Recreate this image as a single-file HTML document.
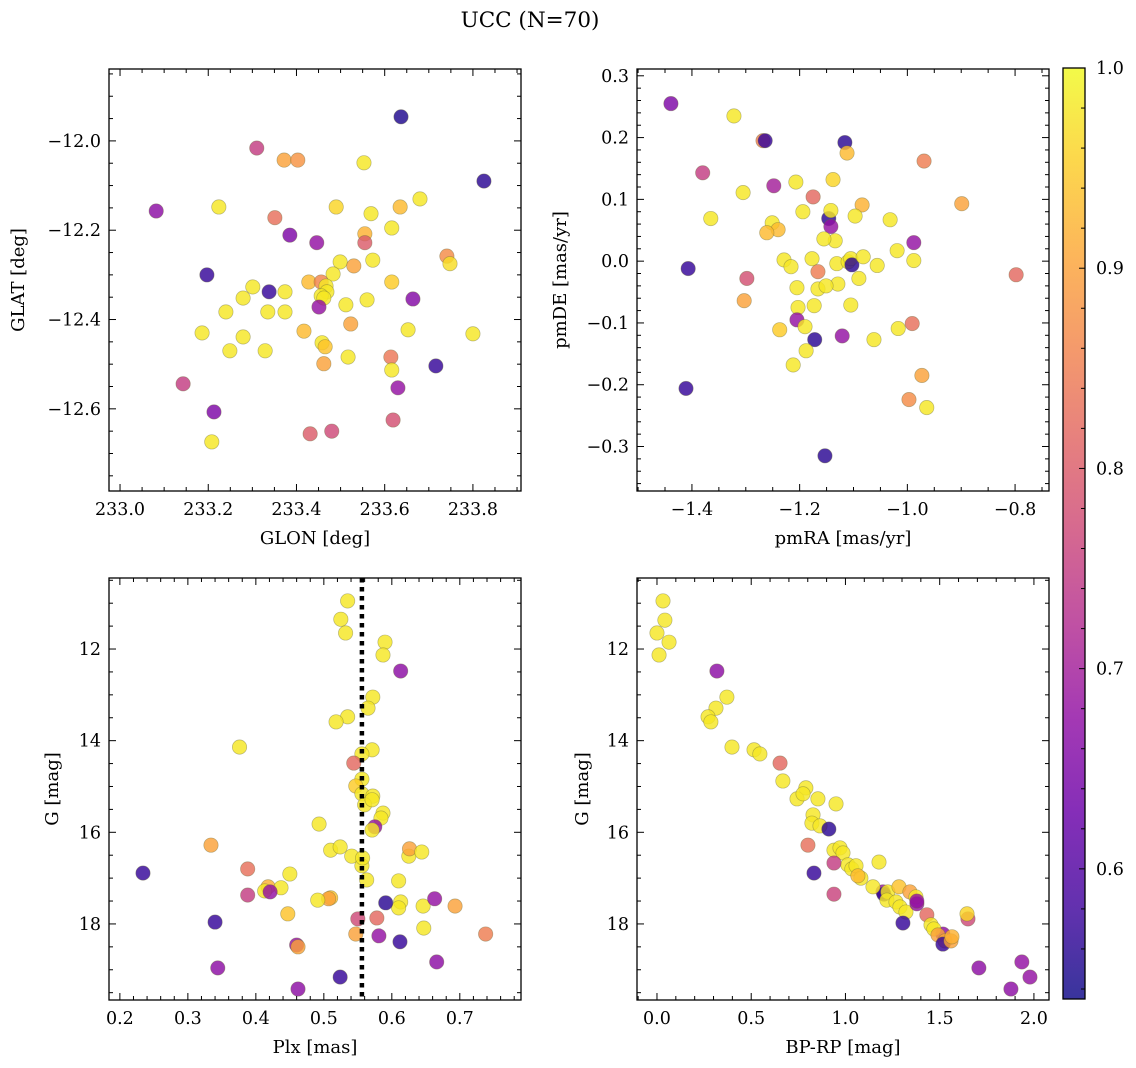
<!DOCTYPE html>
<html><head><meta charset="utf-8"><style>
html,body{margin:0;padding:0;background:#fff;}
svg{display:block;font-family:"DejaVu Serif","Liberation Serif",serif;}
</style></head><body>
<svg id="fig" width="1136" height="1068" viewBox="0 0 1136 1068">
<defs>
<linearGradient id="plasma" x1="0" y1="1" x2="0" y2="0">
<stop offset="0" stop-color="#0d0887"/><stop offset="0.1" stop-color="#41049d"/><stop offset="0.2" stop-color="#6a00a8"/><stop offset="0.3" stop-color="#8f0da4"/><stop offset="0.4" stop-color="#b12a90"/><stop offset="0.5" stop-color="#cc4778"/><stop offset="0.6" stop-color="#e16462"/><stop offset="0.7" stop-color="#f2844b"/><stop offset="0.8" stop-color="#fca636"/><stop offset="0.9" stop-color="#fcce25"/><stop offset="1" stop-color="#f0f921"/>
</linearGradient>
</defs>
<text x="530" y="27" font-size="21.5" text-anchor="middle">UCC (N=70)</text>
</svg>
<script>
// Panel 1: GLON / GLAT
const p1_glon=[233.637,233.310,233.372,233.403,233.553,233.082,233.224,233.490,233.635,233.680,233.825,233.351,233.569,233.385,233.446,233.555,233.555,233.616,233.741,233.748,233.197,233.499,233.573,233.530,233.483,233.428,233.456,233.616,233.467,233.469,233.456,233.301,233.279,233.338,233.374,233.462,233.560,233.451,233.512,233.664,233.186,233.240,233.335,233.374,233.523,233.653,233.800,233.417,233.279,233.249,233.329,233.458,233.465,233.517,233.614,233.462,233.616,233.716,233.630,233.143,233.213,233.208,233.619,233.480,233.431];
const p1_glat=[-11.946,-12.016,-12.043,-12.043,-12.049,-12.157,-12.148,-12.148,-12.148,-12.130,-12.090,-12.172,-12.163,-12.211,-12.228,-12.208,-12.228,-12.195,-12.258,-12.275,-12.300,-12.271,-12.267,-12.280,-12.298,-12.316,-12.316,-12.316,-12.325,-12.338,-12.347,-12.327,-12.352,-12.338,-12.338,-12.352,-12.356,-12.372,-12.367,-12.354,-12.430,-12.383,-12.383,-12.383,-12.410,-12.423,-12.432,-12.426,-12.439,-12.470,-12.470,-12.452,-12.461,-12.484,-12.484,-12.499,-12.513,-12.504,-12.553,-12.544,-12.607,-12.674,-12.625,-12.650,-12.656];
const p1_prob=[0.55,0.75,0.90,0.88,0.98,0.67,0.98,0.96,0.93,0.98,0.56,0.83,0.98,0.65,0.68,0.92,0.80,0.98,0.87,0.97,0.57,0.98,0.98,0.90,0.98,0.93,0.86,0.95,0.98,0.98,0.98,0.98,0.98,0.57,0.98,0.98,0.98,0.68,0.98,0.66,0.98,0.98,0.98,0.98,0.90,0.98,0.98,0.93,0.98,0.98,0.98,0.98,0.94,0.98,0.84,0.90,0.98,0.57,0.68,0.75,0.65,0.98,0.78,0.77,0.80];
// Panel 2: pmRA / pmDE
const p2_pmra=[-1.439,-1.322,-1.268,-1.264,-1.116,-1.112,-0.969,-1.380,-1.248,-1.207,-1.305,-1.175,-1.138,-1.084,-0.899,-1.365,-1.251,-1.194,-1.146,-1.142,-1.097,-1.032,-1.142,-1.134,-1.155,-1.240,-1.261,-1.177,-1.229,-1.216,-1.131,-1.110,-1.105,-1.103,-1.056,-1.082,-1.019,-0.988,-0.988,-1.407,-1.298,-1.166,-1.090,-1.205,-1.129,-1.166,-1.151,-1.303,-1.203,-1.105,-0.991,-1.173,-1.205,-1.190,-1.121,-1.237,-1.172,-1.062,-1.017,-1.188,-1.212,-1.411,-0.798,-0.973,-0.997,-0.964,-1.153];
const p2_pmde=[0.255,0.235,0.195,0.195,0.192,0.175,0.162,0.143,0.122,0.128,0.111,0.104,0.132,0.091,0.093,0.069,0.062,0.080,0.069,0.082,0.073,0.067,0.056,0.033,0.036,0.051,0.046,0.004,0.002,-0.009,-0.004,-0.001,0.004,-0.006,-0.007,0.007,0.017,0.001,0.030,-0.012,-0.028,-0.017,-0.028,-0.043,-0.037,-0.045,-0.040,-0.064,-0.075,-0.071,-0.101,-0.072,-0.095,-0.106,-0.121,-0.111,-0.127,-0.127,-0.109,-0.145,-0.168,-0.206,-0.022,-0.185,-0.224,-0.237,-0.315];
const p2_prob=[0.65,0.98,0.85,0.57,0.56,0.93,0.85,0.75,0.70,0.98,0.98,0.82,0.96,0.92,0.90,0.98,0.98,0.98,0.56,0.98,0.98,0.98,0.68,0.98,0.98,0.93,0.93,0.98,0.98,0.98,0.98,0.98,0.98,0.56,0.98,0.98,0.98,0.98,0.68,0.57,0.78,0.85,0.98,0.98,0.98,0.98,0.98,0.90,0.98,0.98,0.83,0.98,0.68,0.98,0.68,0.95,0.56,0.98,0.98,0.98,0.98,0.57,0.82,0.90,0.87,0.98,0.56];
// Panel 3: Plx / G
const p3_plx=[0.535,0.525,0.532,0.590,0.587,0.613,0.572,0.565,0.535,0.518,0.376,0.571,0.556,0.544,0.556,0.547,0.556,0.572,0.560,0.571,0.587,0.584,0.575,0.571,0.493,0.510,0.524,0.541,0.556,0.557,0.625,0.626,0.234,0.388,0.334,0.610,0.563,0.450,0.418,0.437,0.644,0.413,0.421,0.388,0.510,0.507,0.491,0.613,0.610,0.646,0.663,0.693,0.591,0.447,0.647,0.340,0.550,0.578,0.547,0.581,0.612,0.460,0.462,0.738,0.666,0.344,0.524,0.462];
const p3_g=[10.95,11.35,11.65,11.85,12.13,12.48,13.05,13.29,13.48,13.59,14.14,14.20,14.29,14.49,14.84,14.99,15.16,15.21,15.40,15.29,15.58,15.69,15.88,15.95,15.82,16.39,16.32,16.52,16.73,16.56,16.52,16.36,16.89,16.80,16.28,17.06,17.04,16.91,17.19,17.21,16.43,17.28,17.30,17.37,17.43,17.45,17.48,17.52,17.65,17.61,17.45,17.61,17.54,17.78,18.09,17.96,17.89,17.87,18.22,18.26,18.39,18.46,18.50,18.22,18.83,18.96,19.16,19.42];
const p3_prob=[0.98,0.98,0.98,0.98,0.98,0.67,0.98,0.98,0.98,0.98,0.98,0.98,0.98,0.82,0.98,0.95,0.98,0.98,0.98,0.98,0.98,0.98,0.68,0.98,0.98,0.98,0.98,0.98,0.98,0.98,0.98,0.90,0.57,0.83,0.90,0.98,0.98,0.98,0.92,0.98,0.98,0.98,0.68,0.75,0.94,0.90,0.98,0.98,0.98,0.98,0.68,0.90,0.56,0.94,0.98,0.57,0.77,0.82,0.90,0.68,0.57,0.68,0.90,0.85,0.67,0.67,0.57,0.67];
const p3_vline=[0.556];
// Panel 4: BP-RP / G
const p4_bprp=[0.032,0.042,0.000,0.064,0.011,0.318,0.371,0.313,0.271,0.286,0.515,0.546,0.398,0.653,0.668,0.790,0.743,0.775,0.854,0.950,0.828,0.822,0.865,0.912,0.801,0.939,0.971,0.987,1.013,1.034,1.056,1.178,0.939,0.833,0.939,1.082,1.066,1.199,1.204,1.146,1.225,1.284,1.342,1.220,1.268,1.289,1.321,1.374,1.305,1.379,1.432,1.517,1.454,1.469,1.491,1.528,1.517,1.560,1.565,1.650,1.708,1.645,1.936,1.979,1.878,1.379];
const p4_g=[10.95,11.37,11.65,11.85,12.13,12.48,13.05,13.29,13.48,13.59,14.20,14.29,14.14,14.49,14.88,15.03,15.27,15.16,15.27,15.38,15.62,15.80,15.86,15.93,16.28,16.39,16.34,16.45,16.71,16.80,16.73,16.65,16.67,16.89,17.35,17.00,16.95,17.30,17.35,17.19,17.30,17.19,17.30,17.48,17.52,17.63,17.74,17.41,17.98,17.56,17.80,18.22,18.02,18.11,18.24,18.37,18.44,18.37,18.28,17.89,18.96,17.78,18.83,19.16,19.42,17.50];
const p4_prob=[0.98,0.98,0.98,0.98,0.98,0.67,0.98,0.98,0.98,0.98,0.98,0.98,0.98,0.82,0.98,0.98,0.98,0.98,0.98,0.98,0.98,0.98,0.98,0.56,0.83,0.98,0.98,0.98,0.98,0.98,0.98,0.98,0.75,0.57,0.76,0.98,0.93,0.68,0.56,0.98,0.98,0.94,0.90,0.98,0.98,0.98,0.98,0.98,0.57,0.68,0.82,0.67,0.98,0.98,0.90,0.90,0.57,0.90,0.92,0.77,0.67,0.96,0.68,0.68,0.67,0.68];

const CMIN=0.535, CMAX=1.0;
const TICKFS=17.5, LABFS=18;
const stops=["#0d0887","#41049d","#6a00a8","#8f0da4","#b12a90","#cc4778","#e16462","#f2844b","#fca636","#fcce25","#f0f921"];
function hex(h){return [1,3,5].map(i=>parseInt(h.substr(i,2),16));}
function cmap(v){let t=(v-CMIN)/(CMAX-CMIN);t=Math.max(0,Math.min(1,t));const f=t*10;const i=Math.min(9,Math.floor(f));const r=f-i;const a=hex(stops[i]),b=hex(stops[i+1]);return 'rgb('+a.map((c,k)=>Math.round(c+(b[k]-c)*r)).join(',')+')';}
const NS="http://www.w3.org/2000/svg";
const svg=document.getElementById('fig');
function el(tag,attrs,parent){const e=document.createElementNS(NS,tag);for(const k in attrs)e.setAttribute(k,attrs[k]);(parent||svg).appendChild(e);return e;}
function fmt(v,d){const s=Math.abs(v).toFixed(d);return (v<-1e-9?'\u2212':'')+s;}

function panel(o){
  const g=el('g',{});
  
  
  const X=v=>o.x0+(v-o.xmin)/(o.xmax-o.xmin)*o.w;
  const Y=v=>o.y0+(o.ytop-v)/(o.ytop-o.ybot)*o.h;
  const lo=Math.min(o.ybot,o.ytop), hi=Math.max(o.ybot,o.ytop);
  const pg=el('g',{},g);
  
  
  for(let i=0;i<o.xs.length;i++){
    const c=el('circle',{cx:X(o.xs[i]),cy:Y(o.ys[i]),r:7.2,fill:cmap(o.cs[i]),'fill-opacity':0.82,stroke:'#6b6b3a','stroke-opacity':0.45,'stroke-width':0.7},pg);
    
    
  }
  if(o.vline){for(const v of o.vline){const l=el('line',{x1:X(v),x2:X(v),y1:o.y0,y2:o.y0+o.h,stroke:'#000','stroke-width':4.5,'stroke-dasharray':'4.5 4.5'},g);
    
    }}
  const fr=el('rect',{x:o.x0,y:o.y0,width:o.w,height:o.h,fill:'none',stroke:'#000','stroke-width':1.3},g);
  
  
  const xmn=Math.ceil(Math.min(o.xmin,o.xmax)/o.xminor-1e-6)*o.xminor;
  for(let v=xmn;v<=o.xmax+1e-9;v+=o.xminor){const x=X(v);
    const major=Math.abs(v/o.xmajor-Math.round(v/o.xmajor))<1e-4;const L=major?7:4;
    el('line',{x1:x,x2:x,y1:o.y0+o.h,y2:o.y0+o.h-L,stroke:'#000','stroke-width':1},g);
    el('line',{x1:x,x2:x,y1:o.y0,y2:o.y0+L,stroke:'#000','stroke-width':1},g);
    if(major){const t=el('text',{x:x,y:o.y0+o.h+24,'font-size':TICKFS,'text-anchor':'middle'},g);t.textContent=fmt(v,o.xdec);
      
      }
  }
  const ymn=Math.ceil(lo/o.yminor-1e-6)*o.yminor;
  for(let v=ymn;v<=hi+1e-9;v+=o.yminor){const y=Y(v);
    const major=Math.abs(v/o.ymajor-Math.round(v/o.ymajor))<1e-4;const L=major?7:4;
    el('line',{x1:o.x0,x2:o.x0+L,y1:y,y2:y,stroke:'#000','stroke-width':1},g);
    el('line',{x1:o.x0+o.w,x2:o.x0+o.w-L,y1:y,y2:y,stroke:'#000','stroke-width':1},g);
    if(major){const t=el('text',{x:o.x0-8,y:y+6,'font-size':TICKFS,'text-anchor':'end'},g);t.textContent=fmt(v,o.ydec);
      
      }
  }
  const xl=el('text',{x:o.x0+o.w/2,y:o.y0+o.h+53,'font-size':LABFS,'text-anchor':'middle'},g);xl.textContent=o.xlabel;
  
  
  const yx=o.ylabx, yy=o.y0+o.h/2;
  const yl=el('text',{x:yx,y:yy,'font-size':LABFS,'text-anchor':'middle',transform:'rotate(-90 '+yx+' '+yy+')'},g);yl.textContent=o.ylabel;
  
  
}

panel({name:'glon-glat-panel',x0:109,y0:69,w:412,h:422,xmin:232.975,xmax:233.909,ytop:-11.839,ybot:-12.784,xmajor:0.2,xminor:0.05,ymajor:0.2,yminor:0.05,xdec:1,ydec:1,xs:p1_glon,ys:p1_glat,cs:p1_prob,xlabel:'GLON [deg]',ylabel:'GLAT [deg]',ylabx:24});
panel({name:'pm-panel',x0:637,y0:69,w:412,h:422,xmin:-1.502,xmax:-0.737,ytop:0.311,ybot:-0.372,xmajor:0.2,xminor:0.05,ymajor:0.1,yminor:0.02,xdec:1,ydec:1,xs:p2_pmra,ys:p2_pmde,cs:p2_prob,xlabel:'pmRA [mas/yr]',ylabel:'pmDE [mas/yr]',ylabx:566});
panel({name:'plx-g-panel',x0:109,y0:578,w:412,h:422,xmin:0.184,xmax:0.790,ytop:10.45,ybot:19.66,xmajor:0.1,xminor:0.02,ymajor:2,yminor:0.5,xdec:1,ydec:0,xs:p3_plx,ys:p3_g,cs:p3_prob,xlabel:'Plx [mas]',ylabel:'G [mag]',ylabx:58,vline:p3_vline});
panel({name:'cmd-panel',x0:637,y0:578,w:412,h:422,xmin:-0.106,xmax:2.080,ytop:10.45,ybot:19.66,xmajor:0.5,xminor:0.1,ymajor:2,yminor:0.5,xdec:1,ydec:0,xs:p4_bprp,ys:p4_g,cs:p4_prob,xlabel:'BP-RP [mag]',ylabel:'G [mag]',ylabx:588});

const cb=el('g',{});


const cbx=1063,cby=68,cbw=22,cbh=931;
el('rect',{x:cbx,y:cby,width:cbw,height:cbh,fill:'url(#plasma)','fill-opacity':0.82},cb);
el('rect',{x:cbx,y:cby,width:cbw,height:cbh,fill:'none',stroke:'#000','stroke-width':1.3},cb);
const CY=v=>cby+(CMAX-v)/(CMAX-CMIN)*cbh;
const cbTicks=[0.6,0.7,0.8,0.9,1.0];
for(let k=27;k<=50;k++){const v=k*0.02;if(v<CMIN)continue;const y=CY(v);
  const major=Math.abs(v*10-Math.round(v*10))<1e-6;
  el('line',{x1:cbx+cbw,x2:cbx+cbw-(major?6:4),y1:y,y2:y,stroke:'#000','stroke-width':1},cb);}
for(const v of cbTicks){const t=el('text',{x:1096,y:CY(v)+6,'font-size':TICKFS},cb);t.textContent=v.toFixed(1);
  
  }
</script>
</body></html>
